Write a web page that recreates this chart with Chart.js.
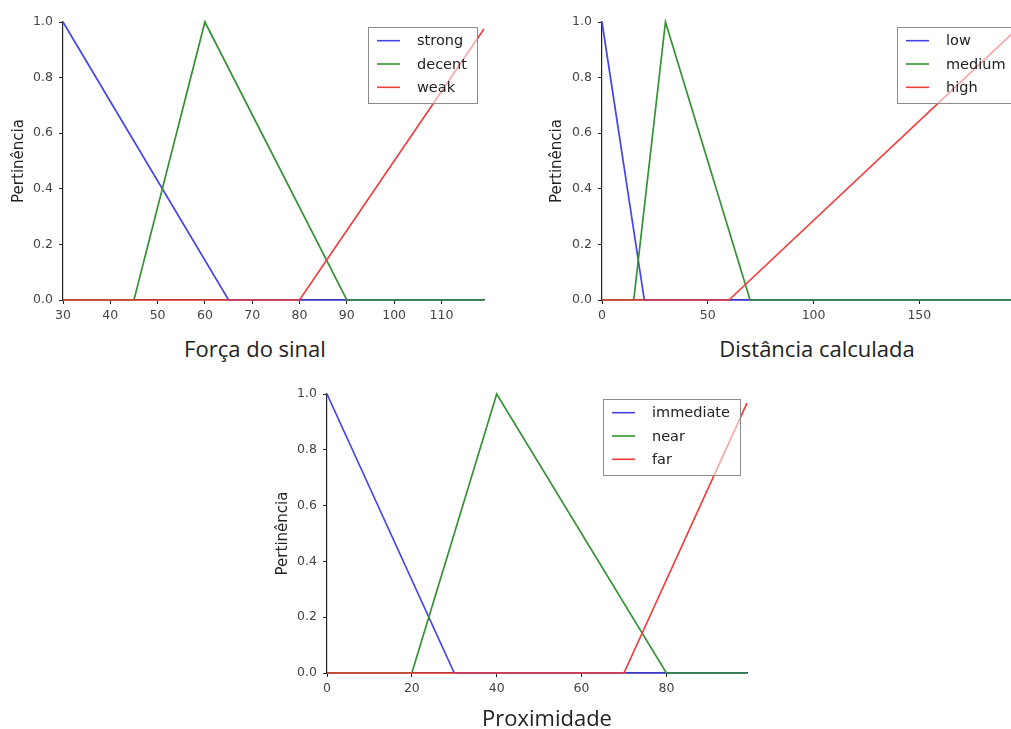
<!DOCTYPE html>
<html><head><meta charset="utf-8">
<script src="https://cdn.jsdelivr.net/npm/chart.js@4.4.1/dist/chart.umd.min.js"></script>
<style>
html,body{margin:0;padding:0;background:#fff;overflow:hidden;width:1011px;height:729px;}
canvas{position:absolute;}
.big{position:absolute;font-family:'Open Sans',sans-serif;font-size:22px;line-height:22px;color:#222;text-align:center;width:400px;white-space:nowrap;}
</style></head><body>
<canvas id="c1" width="500" height="330" style="left:0;top:0"></canvas>
<canvas id="c2" width="502" height="330" style="left:538px;top:0"></canvas>
<canvas id="c3" width="500" height="331" style="left:264px;top:372px"></canvas>
<div class="big" style="left:55px;top:337px">Força do sinal</div>
<div class="big" style="left:617px;top:337px">Distância calculada</div>
<div class="big" style="left:347px;top:706px">Proximidade</div>
<script>
// ---- data ----
const yTicks = [0, 0.2, 0.4, 0.6, 0.8, 1.0];
const yTickLabels = ['0.0', '0.2', '0.4', '0.6', '0.8', '1.0'];
const yTitle = 'Pertinência';

// Chart 1: Força do sinal
const x1Range = [30, 119];
const x1Ticks = [30, 40, 50, 60, 70, 80, 90, 100, 110];
const labels1 = ['strong', 'decent', 'weak'];
const strongX = [30, 65, 119];
const strongY = [1, 0, 0];
const decentX = [30, 45, 60, 90, 119];
const decentY = [0, 0, 1, 0, 0];
const weakX = [30, 80, 119];
const weakY = [0, 0, 0.975];

// Chart 2: Distância calculada
const x2Range = [0, 199];
const x2Ticks = [0, 50, 100, 150];
const labels2 = ['low', 'medium', 'high'];
const lowX = [0, 20, 199];
const lowY = [1, 0, 0];
const mediumX = [0, 15, 30, 70, 199];
const mediumY = [0, 0, 1, 0, 0];
const highX = [0, 60, 199];
const highY = [0, 0, 0.995];

// Chart 3: Proximidade
const x3Range = [0, 99];
const x3Ticks = [0, 20, 40, 60, 80];
const labels3 = ['immediate', 'near', 'far'];
const immediateX = [0, 30, 99];
const immediateY = [1, 0, 0];
const nearX = [0, 20, 40, 80, 99];
const nearY = [0, 0, 1, 0, 0];
const farX = [0, 70, 99];
const farY = [0, 0, 0.967];

// ---- styles ----
const COLORS = ['rgb(68,68,235)', 'rgb(52,145,52)', 'rgb(240,62,62)'];
const TICK_FONT = {family: 'DejaVu Sans', size: 12.5};
const AXIS_COLOR = '#222';

function pts(xs, ys) { return xs.map((x, i) => ({x: x, y: ys[i]})); }

const insideLegend = {
  id: 'insideLegend',
  afterDatasetsDraw(chart) {
    const ctx = chart.ctx, a = chart.chartArea, ds = chart.data.datasets;
    ctx.save();
    ctx.font = '14.5px "DejaVu Sans"';
    let maxW = 0;
    ds.forEach(d => { maxW = Math.max(maxW, ctx.measureText(d.label).width); });
    const w = Math.round(9 + 23 + 17 + maxW + 10), h = 76;
    const x = Math.round(a.right - 7 - w), y = Math.round(a.top + 5);
    ctx.fillStyle = 'rgba(255,255,255,0.55)';
    ctx.fillRect(x, y, w, h);
    ctx.strokeStyle = '#8c8c8c';
    ctx.lineWidth = 1;
    ctx.strokeRect(x + 0.5, y + 0.5, w, h);
    ds.forEach((d, i) => {
      const cy = y + 13.7 + i * 23.3;
      ctx.strokeStyle = d.borderColor;
      ctx.lineWidth = 1.6;
      ctx.beginPath();
      ctx.moveTo(x + 9, cy); ctx.lineTo(x + 32, cy);
      ctx.stroke();
      ctx.fillStyle = '#222';
      ctx.textBaseline = 'middle';
      ctx.textAlign = 'left';
      ctx.fillText(d.label, x + 49, cy + 1);
    });
    ctx.restore();
  }
};

function makeChart(id, labels, series, xRange, xTicks, yAxisWidth, padRight) {
  const datasets = series.map((s, i) => ({
    label: labels[i],
    data: pts(s[0], s[1]),
    borderColor: COLORS[i],
    backgroundColor: COLORS[i],
    borderWidth: 1.7,
    pointRadius: 0,
    fill: false,
    tension: 0,
    clip: 3,
    order: series.length - i
  }));
  return new Chart(document.getElementById(id), {
    type: 'line',
    data: {datasets: datasets},
    plugins: [insideLegend],
    options: {
      responsive: false,
      animation: false,
      layout: {padding: {top: 22, right: padRight, left: 0, bottom: 0}},
      plugins: {legend: {display: false}, tooltip: {enabled: false}},
      scales: {
        x: {
          type: 'linear',
          min: xRange[0], max: xRange[1],
          afterBuildTicks: sc => { sc.ticks = xTicks.map(v => ({value: v})); },
          afterFit: sc => { sc.height = 30; },
          ticks: {font: TICK_FONT, color: '#444', padding: 4, maxRotation: 0,
                  callback: v => String(v)},
          grid: {display: true, drawOnChartArea: false, drawTicks: true, tickLength: 4, color: AXIS_COLOR},
          border: {display: true, color: AXIS_COLOR, width: 1.2}
        },
        y: {
          type: 'linear',
          min: 0, max: 1,
          afterBuildTicks: sc => { sc.ticks = yTicks.map(v => ({value: v})); },
          afterFit: sc => { sc.width = yAxisWidth; },
          ticks: {font: TICK_FONT, color: '#444', padding: 6,
                  callback: v => yTickLabels[yTicks.indexOf(v)] ?? v.toFixed(1)},
          grid: {display: true, drawOnChartArea: false, drawTicks: true, tickLength: 4, color: AXIS_COLOR},
          border: {display: true, color: AXIS_COLOR, width: 1.2},
          title: {display: true, text: yTitle, font: {family: 'DejaVu Sans', size: 15}, color: '#222',
                  padding: {top: 10, bottom: 0}}
        }
      }
    }
  });
}

makeChart('c1', labels1, [[strongX, strongY], [decentX, decentY], [weakX, weakY]], x1Range, x1Ticks, 63, 16);
makeChart('c2', labels2, [[lowX, lowY], [mediumX, mediumY], [highX, highY]], x2Range, x2Ticks, 64, 17);
makeChart('c3', labels3, [[immediateX, immediateY], [nearX, nearY], [farX, farY]], x3Range, x3Ticks, 63, 17);
</script>
</body></html>
